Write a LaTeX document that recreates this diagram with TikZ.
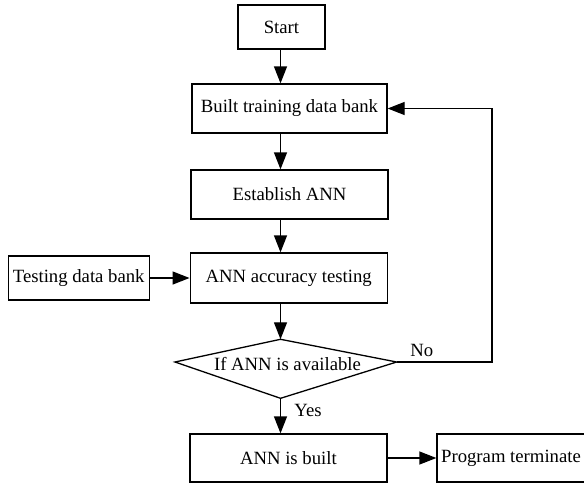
\documentclass[tikz,border=0pt]{standalone}
\usepackage{fontspec}
\setmainfont{Liberation Serif}
\usetikzlibrary{arrows.meta}
\begin{document}
\begin{tikzpicture}[x=1pt,y=-1pt,
  every node/.style={font=\fontsize{18.7}{22}\selectfont},
  box/.style={draw,line width=1.3pt,inner sep=0pt,minimum height=#1},
  box/.default=48pt,
  conn/.style={line width=1.3pt,-{Triangle[length=17pt,width=13pt]}},
  lbl/.style={inner sep=0pt}]
\useasboundingbox (0,0) rectangle (584,485);
\coordinate (spine) at (280.5,0);
\node[box=44pt,minimum width=87pt] (start) at (281.5,27) {Start};
\node[box=49pt,minimum width=195pt] (built) at (289.5,108.5) {Built training data bank};
\node[box=49pt,minimum width=197pt] (establish) at (289.5,194.5) {Establish ANN};
\node[box=50pt,minimum width=197pt] (accuracy) at (288.7,278) {ANN accuracy testing};
\node[box=44pt,minimum width=141pt] (testing) at (78.7,278) {Testing data bank};
\node[box=48pt,minimum width=197pt] (annbuilt) at (288.4,458) {ANN is built};
\node[box=48pt,minimum width=148pt] (program) at (511,458) {Program terminate};
% decision diamond
\coordinate (dtop) at (280.5,339.3);
\coordinate (dleft) at (175,362);
\coordinate (dright) at (396.7,362);
\coordinate (dbot) at (280.5,398.3);
\draw[line width=1.3pt,line join=miter] (dtop) -- (dleft) -- (dbot) -- (dright) -- cycle;
\node[lbl] (dec) at (287.5,364) {If ANN is available};
\coordinate (loopx) at (492,0);
% connectors
\draw[conn] (start.south -| spine) -- (built.north -| spine);
\draw[conn] (built.south -| spine) -- (establish.north -| spine);
\draw[conn] (establish.south -| spine) -- (accuracy.north -| spine);
\draw[conn] (accuracy.south -| spine) -- (dtop);
\draw[conn] (dbot) -- (annbuilt.north -| dbot);
\draw[conn] (testing.east) -- (accuracy.west |- testing.east);
\draw[conn] (annbuilt.east) -- (program.west);
\draw[conn] (dright) -- (dright -| loopx) -- (built.east -| loopx) -- (built.east);
\node[lbl] (no) at (421.7,350) {No};
\node[lbl] (yes) at (308,410) {Yes};
\end{tikzpicture}
\end{document}
